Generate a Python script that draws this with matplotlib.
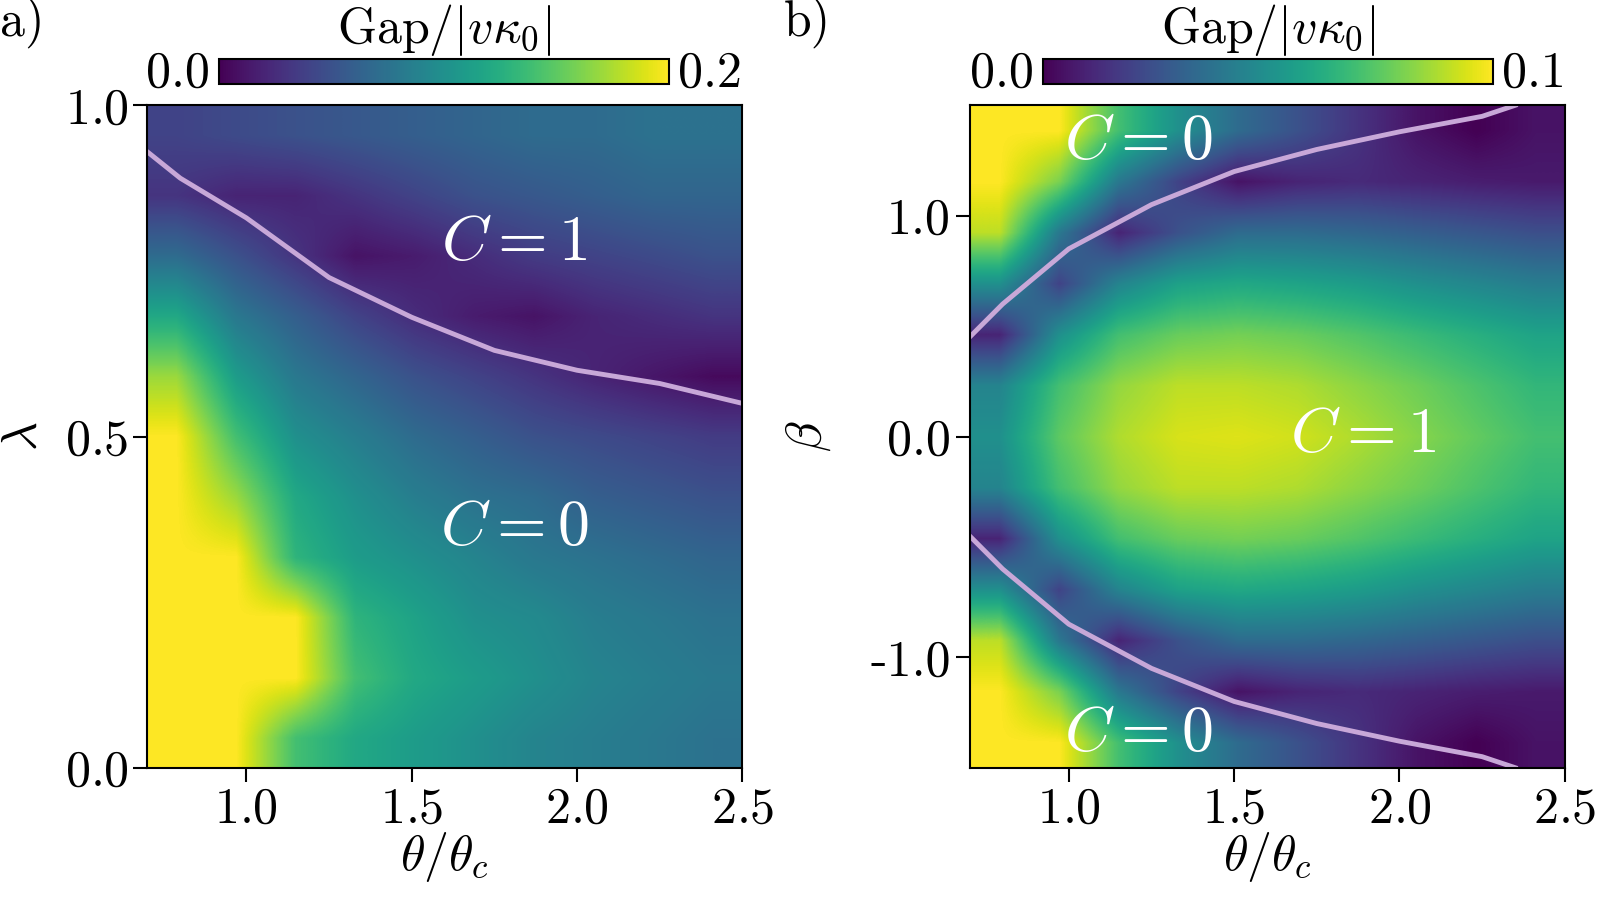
import numpy as np
import matplotlib.pyplot as plt

plt.rcParams['font.family'] = 'serif'
plt.rcParams['font.serif'] = ['cmr10']
plt.rcParams['mathtext.fontset'] = 'cm'
plt.rcParams['axes.formatter.use_mathtext'] = True

# panel a: gap on (theta/theta_c, lambda) grid
theta = [0.7, 0.9, 1.1, 1.3, 1.5, 1.7, 1.9, 2.1, 2.3, 2.5]
lam = [0.0, 0.1, 0.2, 0.3, 0.4, 0.5, 0.6, 0.7, 0.8, 0.9, 1.0]
gap_a = [
    [0.20, 0.20, 0.14, 0.12, 0.11, 0.10, 0.09, 0.085, 0.08, 0.075],
    [0.20, 0.20, 0.20, 0.14, 0.12, 0.11, 0.10, 0.09, 0.085, 0.08],
    [0.20, 0.20, 0.20, 0.13, 0.115, 0.10, 0.095, 0.085, 0.08, 0.075],
    [0.20, 0.20, 0.13, 0.11, 0.10, 0.09, 0.08, 0.075, 0.07, 0.065],
    [0.20, 0.17, 0.12, 0.10, 0.085, 0.075, 0.07, 0.06, 0.055, 0.05],
    [0.20, 0.14, 0.10, 0.085, 0.07, 0.06, 0.05, 0.045, 0.04, 0.035],
    [0.17, 0.11, 0.08, 0.065, 0.05, 0.04, 0.03, 0.02, 0.012, 0.005],
    [0.12, 0.08, 0.06, 0.04, 0.025, 0.015, 0.01, 0.02, 0.025, 0.03],
    [0.07, 0.05, 0.03, 0.01, 0.015, 0.025, 0.035, 0.04, 0.045, 0.05],
    [0.03, 0.02, 0.02, 0.03, 0.04, 0.05, 0.055, 0.06, 0.065, 0.065],
    [0.04, 0.045, 0.05, 0.055, 0.06, 0.065, 0.07, 0.07, 0.075, 0.075],
]
bound_a_x = [0.7, 0.8, 1.0, 1.25, 1.5, 1.75, 2.0, 2.25, 2.5]
bound_a_y = [0.93, 0.89, 0.83, 0.74, 0.68, 0.63, 0.60, 0.58, 0.55]

# panel b: gap on (theta/theta_c, beta) grid
beta = [-1.5, -1.25, -1.0, -0.75, -0.5, -0.25, 0.0, 0.25, 0.5, 0.75, 1.0, 1.25, 1.5]
gap_b_upper = [  # beta = 0 ... 1.5
    [0.05, 0.075, 0.088, 0.094, 0.095, 0.093, 0.088, 0.082, 0.076, 0.07],
    [0.045, 0.07, 0.084, 0.09, 0.09, 0.088, 0.083, 0.078, 0.072, 0.066],
    [0.01, 0.05, 0.07, 0.077, 0.079, 0.077, 0.073, 0.068, 0.063, 0.058],
    [0.05, 0.02, 0.045, 0.057, 0.06, 0.058, 0.055, 0.05, 0.046, 0.042],
    [0.09, 0.04, 0.01, 0.025, 0.035, 0.035, 0.033, 0.03, 0.027, 0.024],
    [0.10, 0.08, 0.04, 0.02, 0.005, 0.01, 0.012, 0.01, 0.008, 0.007],
    [0.10, 0.10, 0.07, 0.05, 0.035, 0.025, 0.015, 0.005, 0.0, 0.005],
]
gap_b = gap_b_upper[::-1] + gap_b_upper[1:]
bound_b_x = [0.7, 0.8, 1.0, 1.25, 1.5, 1.75, 2.0, 2.25, 2.35]
bound_b_y = [0.45, 0.6, 0.85, 1.05, 1.2, 1.3, 1.38, 1.45, 1.5]

fig = plt.figure(figsize=(16, 9), dpi=100)
ax_a = fig.add_axes([0.092, 0.147, 0.372, 0.736])
ax_b = fig.add_axes([0.606, 0.147, 0.372, 0.736])
cax_a = fig.add_axes([0.137, 0.907, 0.281, 0.027])
cax_b = fig.add_axes([0.652, 0.907, 0.281, 0.027])

line_c = '#c8a8d8'
fs = 36
im_a = ax_a.imshow(gap_a, origin='lower', aspect='auto', cmap='viridis', vmin=0, vmax=0.2,
                   extent=[0.7, 2.5, 0, 1], interpolation='bilinear')
ax_a.plot(bound_a_x, bound_a_y, color=line_c, lw=3.5)
ax_a.text(1.81, 0.79, '$C=1$', color='white', fontsize=46, ha='center', va='center')
ax_a.text(1.81, 0.36, '$C=0$', color='white', fontsize=46, ha='center', va='center')
ax_a.set_xlim(0.7, 2.5)
ax_a.set_ylim(0, 1)
ax_a.set_xticks([1.0, 1.5, 2.0, 2.5])
ax_a.set_yticks([0.0, 0.5, 1.0])
ax_a.set_xlabel(r'$\theta/\theta_c$', fontsize=fs, labelpad=-2)
ax_a.set_ylabel(r'$\lambda$', fontsize=fs)
ax_a.yaxis.set_label_coords(-0.17, 0.5)

im_b = ax_b.imshow(gap_b, origin='lower', aspect='auto', cmap='viridis', vmin=0, vmax=0.1,
                   extent=[0.7, 2.5, -1.5, 1.5], interpolation='bilinear')
ax_b.plot(bound_b_x, bound_b_y, color=line_c, lw=3.5)
ax_b.plot(bound_b_x, [-v for v in bound_b_y], color=line_c, lw=3.5)
ax_b.text(1.21, 1.33, '$C=0$', color='white', fontsize=46, ha='center', va='center')
ax_b.text(1.21, -1.35, '$C=0$', color='white', fontsize=46, ha='center', va='center')
ax_b.text(1.89, 0.0, '$C=1$', color='white', fontsize=46, ha='center', va='center')
ax_b.set_xlim(0.7, 2.5)
ax_b.set_ylim(-1.5, 1.5)
ax_b.set_xticks([1.0, 1.5, 2.0, 2.5])
ax_b.set_yticks([-1.0, 0.0, 1.0])
ax_b.set_yticklabels(['-1.0', '0.0', '1.0'])
ax_b.set_xlabel(r'$\theta/\theta_c$', fontsize=fs, labelpad=-2)
ax_b.set_ylabel(r'$\beta$', fontsize=fs)
ax_b.yaxis.set_label_coords(-0.23, 0.5)

for ax in (ax_a, ax_b):
    ax.tick_params(labelsize=fs, length=10, width=1.5)
    for s in ax.spines.values():
        s.set_linewidth(1.5)

for cax, im, vmax in ((cax_a, im_a, 0.2), (cax_b, im_b, 0.1)):
    cb = fig.colorbar(im, cax=cax, orientation='horizontal')
    cb.set_ticks([])
    cax.text(-0.02, 0.4, '0.0', transform=cax.transAxes, ha='right', va='center', fontsize=fs)
    cax.text(1.02, 0.4, f'{vmax:.1f}', transform=cax.transAxes, ha='left', va='center', fontsize=fs)
    cax.text(0.5, 1.05, r'Gap/$|v\kappa_0|$', transform=cax.transAxes, ha='center', va='bottom', fontsize=fs)
    cb.outline.set_linewidth(1.5)

fig.text(0.0, 0.975, 'a)', fontsize=fs, va='center')
fig.text(0.49, 0.975, 'b)', fontsize=fs, va='center')

fig.savefig('out.png')
